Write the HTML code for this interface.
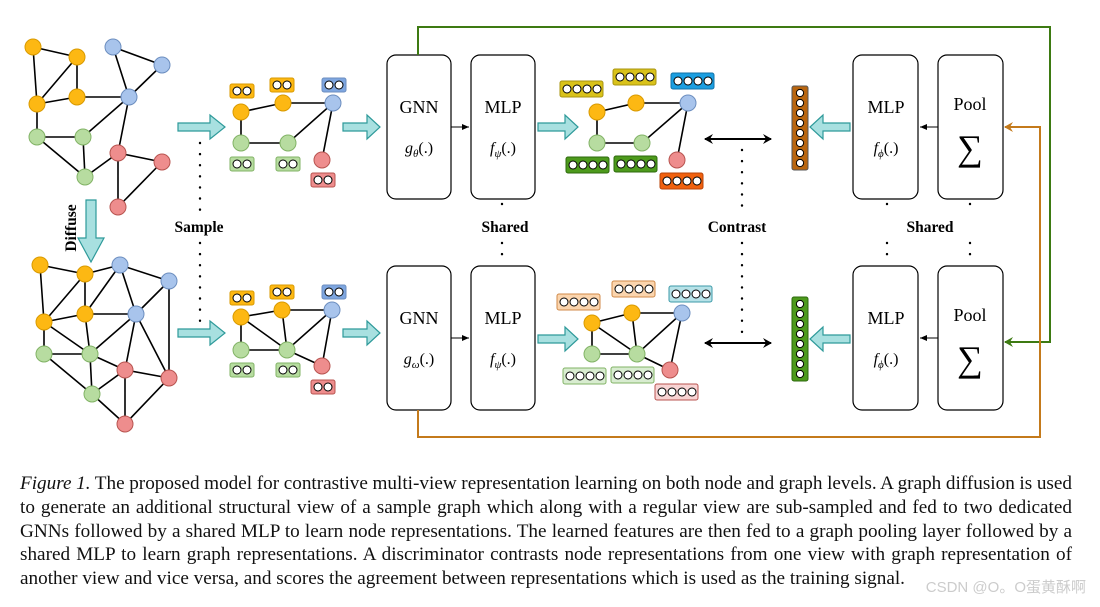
<!DOCTYPE html>
<html><head><meta charset="utf-8"><style>
body{margin:0;background:#fff;width:1100px;height:607px;overflow:hidden}
svg{position:absolute;left:0;top:0}
.cap{position:absolute;left:20px;top:472px;width:1052px;font:19.2px/23.8px "Liberation Serif",serif;color:#111}
.cap div{text-align:justify;text-align-last:justify;white-space:nowrap;word-spacing:-2.5px}
.cap div.l{text-align-last:left;word-spacing:0}
</style></head><body>
<svg width="1100" height="607" viewBox="0 0 1100 607" font-family="Liberation Serif,serif">
<defs>
<marker id="ah" markerWidth="10" markerHeight="10" refX="8" refY="5" orient="auto" markerUnits="userSpaceOnUse"><path d="M0,0 L9,5 L0,10 L3,5Z" fill="#000"/></marker>
<marker id="ahs" markerWidth="8" markerHeight="8" refX="7" refY="4" orient="auto" markerUnits="userSpaceOnUse"><path d="M0,1 L7,4 L0,7Z" fill="#000"/></marker>
<marker id="ag" markerWidth="10" markerHeight="10" refX="8" refY="5" orient="auto" markerUnits="userSpaceOnUse"><path d="M0,0 L9,5 L0,10 L3,5Z" fill="#3d7a12"/></marker>
<marker id="ao" markerWidth="10" markerHeight="10" refX="8" refY="5" orient="auto" markerUnits="userSpaceOnUse"><path d="M0,0 L9,5 L0,10 L3,5Z" fill="#c47a1b"/></marker>
</defs>
<g stroke="#000" stroke-width="1.6" fill="none">
<path d="M33,47L77,57M33,47L37,104M77,57L37,104M77,57L77,97M37,104L77,97M77,97L129,97M113,47L129,97M113,47L162,65M162,65L129,97M37,104L37,137M37,137L83,137M37,137L85,177M83,137L85,177M83,137L129,97M129,97L118,153M85,177L118,153M118,153L162,162M118,153L118,207M162,162L118,207"/>
<path d="M40,265L85,274M40,265L44,322M85,274L44,322M85,274L85,314M44,322L85,314M85,274L120,265M85,314L120,265M120,265L169,281M120,265L136,314M169,281L136,314M169,281L169,378M85,314L136,314M44,322L90,354M44,322L44,354M85,314L90,354M44,354L90,354M44,354L92,394M90,354L92,394M90,354L136,314M90,354L125,370M136,314L125,370M136,314L169,378M125,370L169,378M125,370L125,424M169,378L125,424M92,394L125,370M92,394L125,424"/>
<path d="M241,112L283,103L333,103M241,112L241,143L288,143L333,103L322,160"/>
<path d="M241,317L282,310L332,310M241,317L241,350L287,350L332,310L322,366M241,317L287,350M282,310L287,350M287,350L322,366"/>
<path d="M597,112L636,103L688,103M597,112L597,143L642,143L688,103L677,160"/>
<path d="M592,323L632,313L682,313M592,323L592,354L637,354L682,313L670,370M592,323L637,354M632,313L637,354M637,354L670,370"/>
</g>
<g stroke-width="1">
<g fill="#fdb813" stroke="#d99a00"><circle cx="33" cy="47" r="8"/><circle cx="77" cy="57" r="8"/><circle cx="37" cy="104" r="8"/><circle cx="77" cy="97" r="8"/>
<circle cx="40" cy="265" r="8"/><circle cx="85" cy="274" r="8"/><circle cx="44" cy="322" r="8"/><circle cx="85" cy="314" r="8"/>
<circle cx="241" cy="112" r="8"/><circle cx="283" cy="103" r="8"/><circle cx="241" cy="317" r="8"/><circle cx="282" cy="310" r="8"/>
<circle cx="597" cy="112" r="8"/><circle cx="636" cy="103" r="8"/><circle cx="592" cy="323" r="8"/><circle cx="632" cy="313" r="8"/></g>
<g fill="#a8c4ec" stroke="#6c8ebf"><circle cx="113" cy="47" r="8"/><circle cx="162" cy="65" r="8"/><circle cx="129" cy="97" r="8"/>
<circle cx="120" cy="265" r="8"/><circle cx="169" cy="281" r="8"/><circle cx="136" cy="314" r="8"/>
<circle cx="333" cy="103" r="8"/><circle cx="332" cy="310" r="8"/><circle cx="688" cy="103" r="8"/><circle cx="682" cy="313" r="8"/></g>
<g fill="#b7dca0" stroke="#82b366"><circle cx="37" cy="137" r="8"/><circle cx="83" cy="137" r="8"/><circle cx="85" cy="177" r="8"/>
<circle cx="44" cy="354" r="8"/><circle cx="90" cy="354" r="8"/><circle cx="92" cy="394" r="8"/>
<circle cx="241" cy="143" r="8"/><circle cx="288" cy="143" r="8"/><circle cx="241" cy="350" r="8"/><circle cx="287" cy="350" r="8"/>
<circle cx="597" cy="143" r="8"/><circle cx="642" cy="143" r="8"/><circle cx="592" cy="354" r="8"/><circle cx="637" cy="354" r="8"/></g>
<g fill="#ee8d8d" stroke="#b85450"><circle cx="118" cy="153" r="8"/><circle cx="162" cy="162" r="8"/><circle cx="118" cy="207" r="8"/>
<circle cx="125" cy="370" r="8"/><circle cx="169" cy="378" r="8"/><circle cx="125" cy="424" r="8"/>
<circle cx="322" cy="160" r="8"/><circle cx="322" cy="366" r="8"/><circle cx="677" cy="160" r="8"/><circle cx="670" cy="370" r="8"/></g>
</g>
<g stroke-width="1">
<rect x="230" y="84" width="24" height="14" rx="2" fill="#fdb813" stroke="#d99a00"/><rect x="270" y="78" width="24" height="14" rx="2" fill="#fdb813" stroke="#d99a00"/><rect x="322" y="78" width="24" height="14" rx="2" fill="#7ea6e0" stroke="#6c8ebf"/>
<rect x="230" y="157" width="24" height="14" rx="2" fill="#b7dca0" stroke="#82b366"/><rect x="276" y="157" width="24" height="14" rx="2" fill="#b7dca0" stroke="#82b366"/><rect x="311" y="173" width="24" height="14" rx="2" fill="#ee8d8d" stroke="#b85450"/>
<rect x="230" y="291" width="24" height="14" rx="2" fill="#fdb813" stroke="#d99a00"/><rect x="270" y="285" width="24" height="14" rx="2" fill="#fdb813" stroke="#d99a00"/><rect x="322" y="285" width="24" height="14" rx="2" fill="#7ea6e0" stroke="#6c8ebf"/>
<rect x="230" y="363" width="24" height="14" rx="2" fill="#b7dca0" stroke="#82b366"/><rect x="276" y="363" width="24" height="14" rx="2" fill="#b7dca0" stroke="#82b366"/><rect x="311" y="380" width="24" height="14" rx="2" fill="#ee8d8d" stroke="#b85450"/>
<g fill="#fff" stroke="#000">
<circle cx="237" cy="91" r="4"/><circle cx="247" cy="91" r="4"/><circle cx="277" cy="85" r="4"/><circle cx="287" cy="85" r="4"/><circle cx="329" cy="85" r="4"/><circle cx="339" cy="85" r="4"/>
<circle cx="237" cy="164" r="4"/><circle cx="247" cy="164" r="4"/><circle cx="283" cy="164" r="4"/><circle cx="293" cy="164" r="4"/><circle cx="318" cy="180" r="4"/><circle cx="328" cy="180" r="4"/>
<circle cx="237" cy="298" r="4"/><circle cx="247" cy="298" r="4"/><circle cx="277" cy="292" r="4"/><circle cx="287" cy="292" r="4"/><circle cx="329" cy="292" r="4"/><circle cx="339" cy="292" r="4"/>
<circle cx="237" cy="370" r="4"/><circle cx="247" cy="370" r="4"/><circle cx="283" cy="370" r="4"/><circle cx="293" cy="370" r="4"/><circle cx="318" cy="387" r="4"/><circle cx="328" cy="387" r="4"/>
</g>
<rect x="560" y="81" width="43" height="16" rx="2" fill="#d9c21a" stroke="#a89410"/>
<rect x="613" y="69" width="43" height="16" rx="2" fill="#d9c21a" stroke="#a89410"/>
<rect x="671" y="73" width="43" height="16" rx="2" fill="#1b9ee0" stroke="#1072a8"/>
<rect x="566" y="157" width="43" height="16" rx="2" fill="#4d9a1c" stroke="#2d6a0c"/>
<rect x="614" y="156" width="43" height="16" rx="2" fill="#4d9a1c" stroke="#2d6a0c"/>
<rect x="660" y="173" width="43" height="16" rx="2" fill="#f0610f" stroke="#b8440a"/>
<rect x="557" y="294" width="43" height="16" rx="2" fill="#fbd5ae" stroke="#d08a4a"/>
<rect x="612" y="281" width="43" height="16" rx="2" fill="#fbd5ae" stroke="#d08a4a"/>
<rect x="669" y="286" width="43" height="16" rx="2" fill="#b7e2e8" stroke="#3c9aa8"/>
<rect x="563" y="368" width="43" height="16" rx="2" fill="#d8ecd0" stroke="#82b366"/>
<rect x="611" y="367" width="43" height="16" rx="2" fill="#d8ecd0" stroke="#82b366"/>
<rect x="655" y="384" width="43" height="16" rx="2" fill="#f8d4d4" stroke="#b85450"/>
</g>
<g fill="#fff" stroke="#000" stroke-width="1">
<circle cx="567" cy="89" r="4"/><circle cx="577" cy="89" r="4"/><circle cx="587" cy="89" r="4"/><circle cx="597" cy="89" r="4"/>
<circle cx="620" cy="77" r="4"/><circle cx="630" cy="77" r="4"/><circle cx="640" cy="77" r="4"/><circle cx="650" cy="77" r="4"/>
<circle cx="678" cy="81" r="4"/><circle cx="688" cy="81" r="4"/><circle cx="698" cy="81" r="4"/><circle cx="708" cy="81" r="4"/>
<circle cx="573" cy="165" r="4"/><circle cx="583" cy="165" r="4"/><circle cx="593" cy="165" r="4"/><circle cx="603" cy="165" r="4"/>
<circle cx="621" cy="164" r="4"/><circle cx="631" cy="164" r="4"/><circle cx="641" cy="164" r="4"/><circle cx="651" cy="164" r="4"/>
<circle cx="667" cy="181" r="4"/><circle cx="677" cy="181" r="4"/><circle cx="687" cy="181" r="4"/><circle cx="697" cy="181" r="4"/>
<circle cx="564" cy="302" r="4"/><circle cx="574" cy="302" r="4"/><circle cx="584" cy="302" r="4"/><circle cx="594" cy="302" r="4"/>
<circle cx="619" cy="289" r="4"/><circle cx="629" cy="289" r="4"/><circle cx="639" cy="289" r="4"/><circle cx="649" cy="289" r="4"/>
<circle cx="676" cy="294" r="4"/><circle cx="686" cy="294" r="4"/><circle cx="696" cy="294" r="4"/><circle cx="706" cy="294" r="4"/>
<circle cx="570" cy="376" r="4"/><circle cx="580" cy="376" r="4"/><circle cx="590" cy="376" r="4"/><circle cx="600" cy="376" r="4"/>
<circle cx="618" cy="375" r="4"/><circle cx="628" cy="375" r="4"/><circle cx="638" cy="375" r="4"/><circle cx="648" cy="375" r="4"/>
<circle cx="662" cy="392" r="4"/><circle cx="672" cy="392" r="4"/><circle cx="682" cy="392" r="4"/><circle cx="692" cy="392" r="4"/>
</g>
<rect x="792" y="86" width="16" height="84" rx="2" fill="#b8650f" stroke="#555" stroke-width="1"/>
<rect x="792" y="297" width="16" height="84" rx="2" fill="#4d9a1c" stroke="#2d6a0c" stroke-width="1"/>
<g fill="#fff" stroke="#000" stroke-width="1">
<circle cx="800" cy="93" r="3.6"/><circle cx="800" cy="103" r="3.6"/><circle cx="800" cy="113" r="3.6"/><circle cx="800" cy="123" r="3.6"/><circle cx="800" cy="133" r="3.6"/><circle cx="800" cy="143" r="3.6"/><circle cx="800" cy="153" r="3.6"/><circle cx="800" cy="163" r="3.6"/>
<circle cx="800" cy="304" r="3.6"/><circle cx="800" cy="314" r="3.6"/><circle cx="800" cy="324" r="3.6"/><circle cx="800" cy="334" r="3.6"/><circle cx="800" cy="344" r="3.6"/><circle cx="800" cy="354" r="3.6"/><circle cx="800" cy="364" r="3.6"/><circle cx="800" cy="374" r="3.6"/>
</g>
<g fill="#a8e0e0" stroke="#2e9a9a" stroke-width="1.2">
<path d="M178,123h32v-8l15,12l-15,12v-8h-32z"/>
<path d="M178,329h32v-8l15,12l-15,12v-8h-32z"/>
<path d="M343,123h24v-8l13,12l-13,12v-8h-24z"/>
<path d="M343,329h24v-8l13,12l-13,12v-8h-24z"/>
<path d="M538,123h27v-8l13,12l-13,12v-8h-27z"/>
<path d="M538,335h27v-8l13,12l-13,12v-8h-27z"/>
<path d="M850,123h-27v-8l-13,12l13,12v-8h27z"/>
<path d="M850,335h-27v-8l-13,12l13,12v-8h27z"/>
<path d="M86,200h10v38h8l-13,24l-13,-24h8z"/>
</g>
<g fill="#fff" stroke="#000" stroke-width="1.2">
<rect x="387" y="55" width="64" height="144" rx="9"/><rect x="471" y="55" width="64" height="144" rx="9"/>
<rect x="387" y="266" width="64" height="144" rx="9"/><rect x="471" y="266" width="64" height="144" rx="9"/>
<rect x="853" y="55" width="65" height="144" rx="9"/><rect x="938" y="55" width="65" height="144" rx="9"/>
<rect x="853" y="266" width="65" height="144" rx="9"/><rect x="938" y="266" width="65" height="144" rx="9"/>
</g>
<g stroke="#000" stroke-width="1" fill="none">
<path d="M451,127H469" marker-end="url(#ahs)"/><path d="M451,338H469" marker-end="url(#ahs)"/>
<path d="M938,127H920" marker-end="url(#ahs)"/><path d="M938,338H920" marker-end="url(#ahs)"/>
</g>
<g stroke="#000" stroke-width="2" fill="none">
<path d="M712,139H771" marker-end="url(#ah)"/><path d="M764,139H705" marker-end="url(#ah)"/>
<path d="M712,343H771" marker-end="url(#ah)"/><path d="M764,343H705" marker-end="url(#ah)"/>
</g>
<g stroke="#000" stroke-width="2.4" stroke-dasharray="0.1 11" stroke-linecap="round" fill="none">
<path d="M200,143V212M200,243V330"/><path d="M502,204V215M502,243V262"/>
<path d="M742,150V212M742,243V340"/><path d="M887,204V215M887,243V262"/><path d="M970,204V215M970,243V262"/>
</g>
<path d="M418,55V27H1050V342H1005" fill="none" stroke="#3d7a12" stroke-width="2" marker-end="url(#ag)"/>
<path d="M418,410V437H1040V127H1005" fill="none" stroke="#c47a1b" stroke-width="2" marker-end="url(#ao)"/>
<g font-size="18" text-anchor="middle">
<text x="419" y="113">GNN</text><text x="503" y="113">MLP</text>
<text x="419" y="324">GNN</text><text x="503" y="324">MLP</text>
<text x="886" y="113">MLP</text><text x="970" y="110">Pool</text>
<text x="886" y="324">MLP</text><text x="970" y="321">Pool</text>
<g font-style="italic" font-size="16"><text x="419" y="153">g<tspan font-size="11" dy="4">θ</tspan><tspan dy="-4" font-style="normal">(.)</tspan></text>
<text x="503" y="153">f<tspan font-size="11" dy="4">ψ</tspan><tspan dy="-4" font-style="normal">(.)</tspan></text>
<text x="419" y="364">g<tspan font-size="11" dy="4">ω</tspan><tspan dy="-4" font-style="normal">(.)</tspan></text>
<text x="503" y="364">f<tspan font-size="11" dy="4">ψ</tspan><tspan dy="-4" font-style="normal">(.)</tspan></text>
<text x="886" y="153">f<tspan font-size="11" dy="4">ϕ</tspan><tspan dy="-4" font-style="normal">(.)</tspan></text>
<text x="886" y="364">f<tspan font-size="11" dy="4">ϕ</tspan><tspan dy="-4" font-style="normal">(.)</tspan></text></g>
<text x="970" y="160" font-size="36">∑</text><text x="970" y="371" font-size="36">∑</text>
</g>
<g font-size="15.5" font-weight="bold" text-anchor="middle">
<text x="199" y="232">Sample</text><text x="505" y="232">Shared</text><text x="737" y="232">Contrast</text><text x="930" y="232">Shared</text>
<text transform="translate(76,228) rotate(-90)">Diffuse</text>
</g>
</svg>
<div class="cap">
<div><i>Figure 1.</i> The proposed model for contrastive multi-view representation learning on both node and graph levels. A graph diffusion is used</div>
<div>to generate an additional structural view of a sample graph which along with a regular view are sub-sampled and fed to two dedicated</div>
<div>GNNs followed by a shared MLP to learn node representations. The learned features are then fed to a graph pooling layer followed by a</div>
<div>shared MLP to learn graph representations. A discriminator contrasts node representations from one view with graph representation of</div>
<div class="l">another view and vice versa, and scores the agreement between representations which is used as the training signal.</div>
</div>
<div style="position:absolute;right:14px;top:576px;font:15px 'Liberation Sans','Noto Sans CJK SC',sans-serif;color:#ccc">CSDN @O。O蛋黄酥啊</div>
</body></html>
